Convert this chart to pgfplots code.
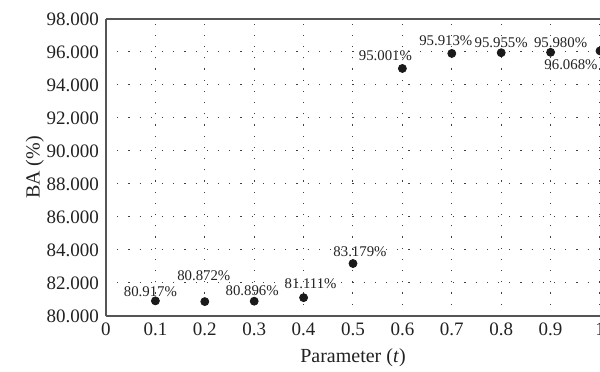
\documentclass[border=0pt]{standalone}
\usepackage{pgfplots}
\pgfplotsset{compat=1.18}
\usepackage{pgfplotstable}
\usepackage{fontspec}
\setmainfont{Liberation Serif}
\definecolor{markc}{HTML}{1A1A1A}
\definecolor{axc}{HTML}{555555}
\definecolor{txt}{HTML}{222222}
\pgfplotstableread{
x y dx dy
0.1 80.917 -2.5 4.5
0.2 80.872 -0.5 13
0.3 80.896 -1 5.5
0.4 81.111 3.5 7
0.5 83.179 3.5 6
0.6 95.001 -8.5 6.5
0.7 95.913 -3 6.5
0.8 95.955 0 5
0.9 95.980 5 5
1.0 96.068 -14.5 -7
}\datatable
\begin{document}
\begin{tikzpicture}
\begin{axis}[
 width=247pt, height=148.5pt, scale only axis,
 xmin=0, xmax=1, ymin=80, ymax=98,
 xtick={0,0.1,0.2,0.3,0.4,0.5,0.6,0.7,0.8,0.9,1},
 xticklabels={0,0.1,0.2,0.3,0.4,0.5,0.6,0.7,0.8,0.9,1},
 ytick={80,82,84,86,88,90,92,94,96,98},
 yticklabel style={/pgf/number format/.cd, fixed, fixed zerofill, precision=3},
 /pgf/number format/assume math mode=true,
 tick label style={font=\fontsize{9.5}{11}\selectfont, text=txt},
 major tick length=0pt,
 grid=major,
 grid style={dash pattern=on 0.6pt off 5pt, black!75, line width=0.5pt},
 axis x line*=box, axis y line*=left,
 axis line style={axc, line width=0.8pt, -},
 xlabel={Parameter (\textit{t})}, ylabel={BA (\%)},
 label style={font=\fontsize{10}{12}\selectfont, text=txt},
 xlabel style={at={(axis description cs:0.5,-0.141)}, anchor=center},
 ylabel style={at={(axis description cs:-0.144,0.5)}, anchor=center},
 clip=false,
]
\addplot[only marks, mark=*, mark size=2pt, color=markc,
  visualization depends on={\thisrow{dx}\as\dx},
  visualization depends on={\thisrow{dy}\as\dy},
  point meta=\thisrow{y},
  nodes near coords={\pgfmathprintnumber[fixed,fixed zerofill,precision=3]{\pgfplotspointmeta}\%},
  every node near coord/.append style={anchor=center, xshift=\dx pt, yshift=\dy pt, font=\fontsize{7.4}{9}\selectfont, text=txt, inner sep=0pt},
] table[x=x,y=y] {\datatable};
\end{axis}
\pgfresetboundingbox
\path ([xshift=-53pt,yshift=-28pt]current axis.south west) rectangle ([yshift=9.5pt]current axis.north east);
\end{tikzpicture}
\end{document}
